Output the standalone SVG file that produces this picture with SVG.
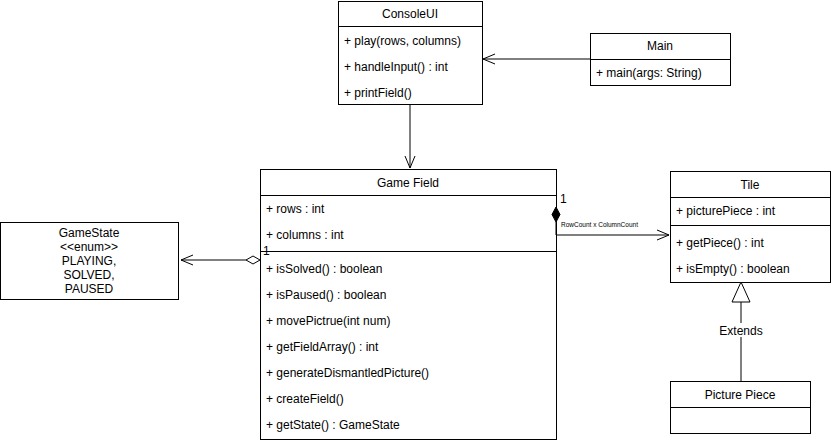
<svg xmlns="http://www.w3.org/2000/svg" width="831" height="441" viewBox="0 0 831 441">
<defs>
<style>
.box{fill:#fff;stroke:#000;stroke-width:1}
.ln{stroke:#000;stroke-width:1;fill:none}
text{font-family:"Liberation Sans",Arial,sans-serif;font-size:12px;fill:#000}
.c{text-anchor:middle}
.sm{font-size:6.5px}
</style>
<marker id="open" markerWidth="14" markerHeight="12" refX="13" refY="6" orient="auto" markerUnits="userSpaceOnUse">
<path d="M1,1 L13,6 L1,11" fill="none" stroke="#000" stroke-width="1"/>
</marker>
</defs>
<g id="ConsoleUI">
<rect class="box" x="338.5" y="1.5" width="144" height="103"/>
<line class="ln" x1="338.5" y1="26.5" x2="482.5" y2="26.5"/>
<text x="410" y="18" class="c">ConsoleUI</text>
<text x="344" y="45">+ play(rows, columns)</text>
<text x="344" y="71">+ handleInput() : int</text>
<text x="344" y="97">+ printField()</text>
</g>
<g id="Main">
<rect class="box" x="590.5" y="33.5" width="140" height="52"/>
<line class="ln" x1="590.5" y1="59.5" x2="730.5" y2="59.5"/>
<text x="660" y="50" class="c">Main</text>
<text x="596" y="77">+ main(args: String)</text>
</g>
<g id="GameField">
<rect class="box" x="260.5" y="169.5" width="296" height="270"/>
<line class="ln" x1="260.5" y1="195.5" x2="556.5" y2="195.5"/>
<line class="ln" x1="260.5" y1="251.5" x2="556.5" y2="251.5"/>
<text x="408" y="187" class="c">Game Field</text>
<text x="266" y="213">+ rows : int</text>
<text x="266" y="239">+ columns : int</text>
<text x="266" y="273">+ isSolved() : boolean</text>
<text x="266" y="299">+ isPaused() : boolean</text>
<text x="266" y="325">+ movePictrue(int num)</text>
<text x="266" y="351">+ getFieldArray() : int</text>
<text x="266" y="377">+ generateDismantledPicture()</text>
<text x="266" y="403">+ createField()</text>
<text x="266" y="429">+ getState() : GameState</text>
</g>
<g id="Tile">
<rect class="box" x="670.5" y="171.5" width="160" height="111"/>
<line class="ln" x1="670.5" y1="197.5" x2="830.5" y2="197.5"/>
<line class="ln" x1="670.5" y1="225.5" x2="830.5" y2="225.5"/>
<text x="750" y="189" class="c">Tile</text>
<text x="676" y="215">+ picturePiece : int</text>
<text x="676" y="247">+ getPiece() : int</text>
<text x="676" y="273">+ isEmpty() : boolean</text>
</g>
<g id="GameState">
<rect class="box" x="0.5" y="222.5" width="178" height="77"/>
<text x="89" y="237" class="c">GameState</text>
<text x="89" y="251" class="c">&lt;&lt;enum&gt;&gt;</text>
<text x="89" y="265" class="c">PLAYING,</text>
<text x="89" y="279" class="c">SOLVED,</text>
<text x="89" y="293" class="c"> PAUSED</text>
</g>
<g id="PicturePiece">
<rect class="box" x="670.5" y="381.5" width="140" height="52"/>
<line class="ln" x1="670.5" y1="407.5" x2="810.5" y2="407.5"/>
<text x="740" y="399" class="c">Picture Piece</text>
</g>
<g id="connectors">
<line class="ln" x1="590" y1="59" x2="483" y2="59" marker-end="url(#open)"/>
<line class="ln" x1="410" y1="104" x2="410" y2="168" marker-end="url(#open)"/>
<line class="ln" x1="246" y1="260" x2="181" y2="260" marker-end="url(#open)"/>
<path d="M260,260 L253,256 L246,260 L253,264 Z" fill="#fff" stroke="#000"/>
<text x="263" y="255" font-size="11">1</text>
<path class="ln" d="M556,222 L556,235 L669,235" marker-end="url(#open)"/>
<path d="M556,207 L560,214.5 L556,222 L552,214.5 Z" fill="#000" stroke="#000"/>
<text x="560" y="203" font-size="11">1</text>
<text x="561" y="227" class="sm">RowCount x ColumnCount</text>
<line class="ln" x1="741" y1="302" x2="741" y2="381"/>
<path d="M741,282 L750,302 L732,302 Z" fill="#fff" stroke="#000"/>
<rect x="719" y="323" width="44" height="14" fill="#fff"/>
<text x="741" y="335" class="c" font-size="11">Extends</text>
</g>
</svg>
